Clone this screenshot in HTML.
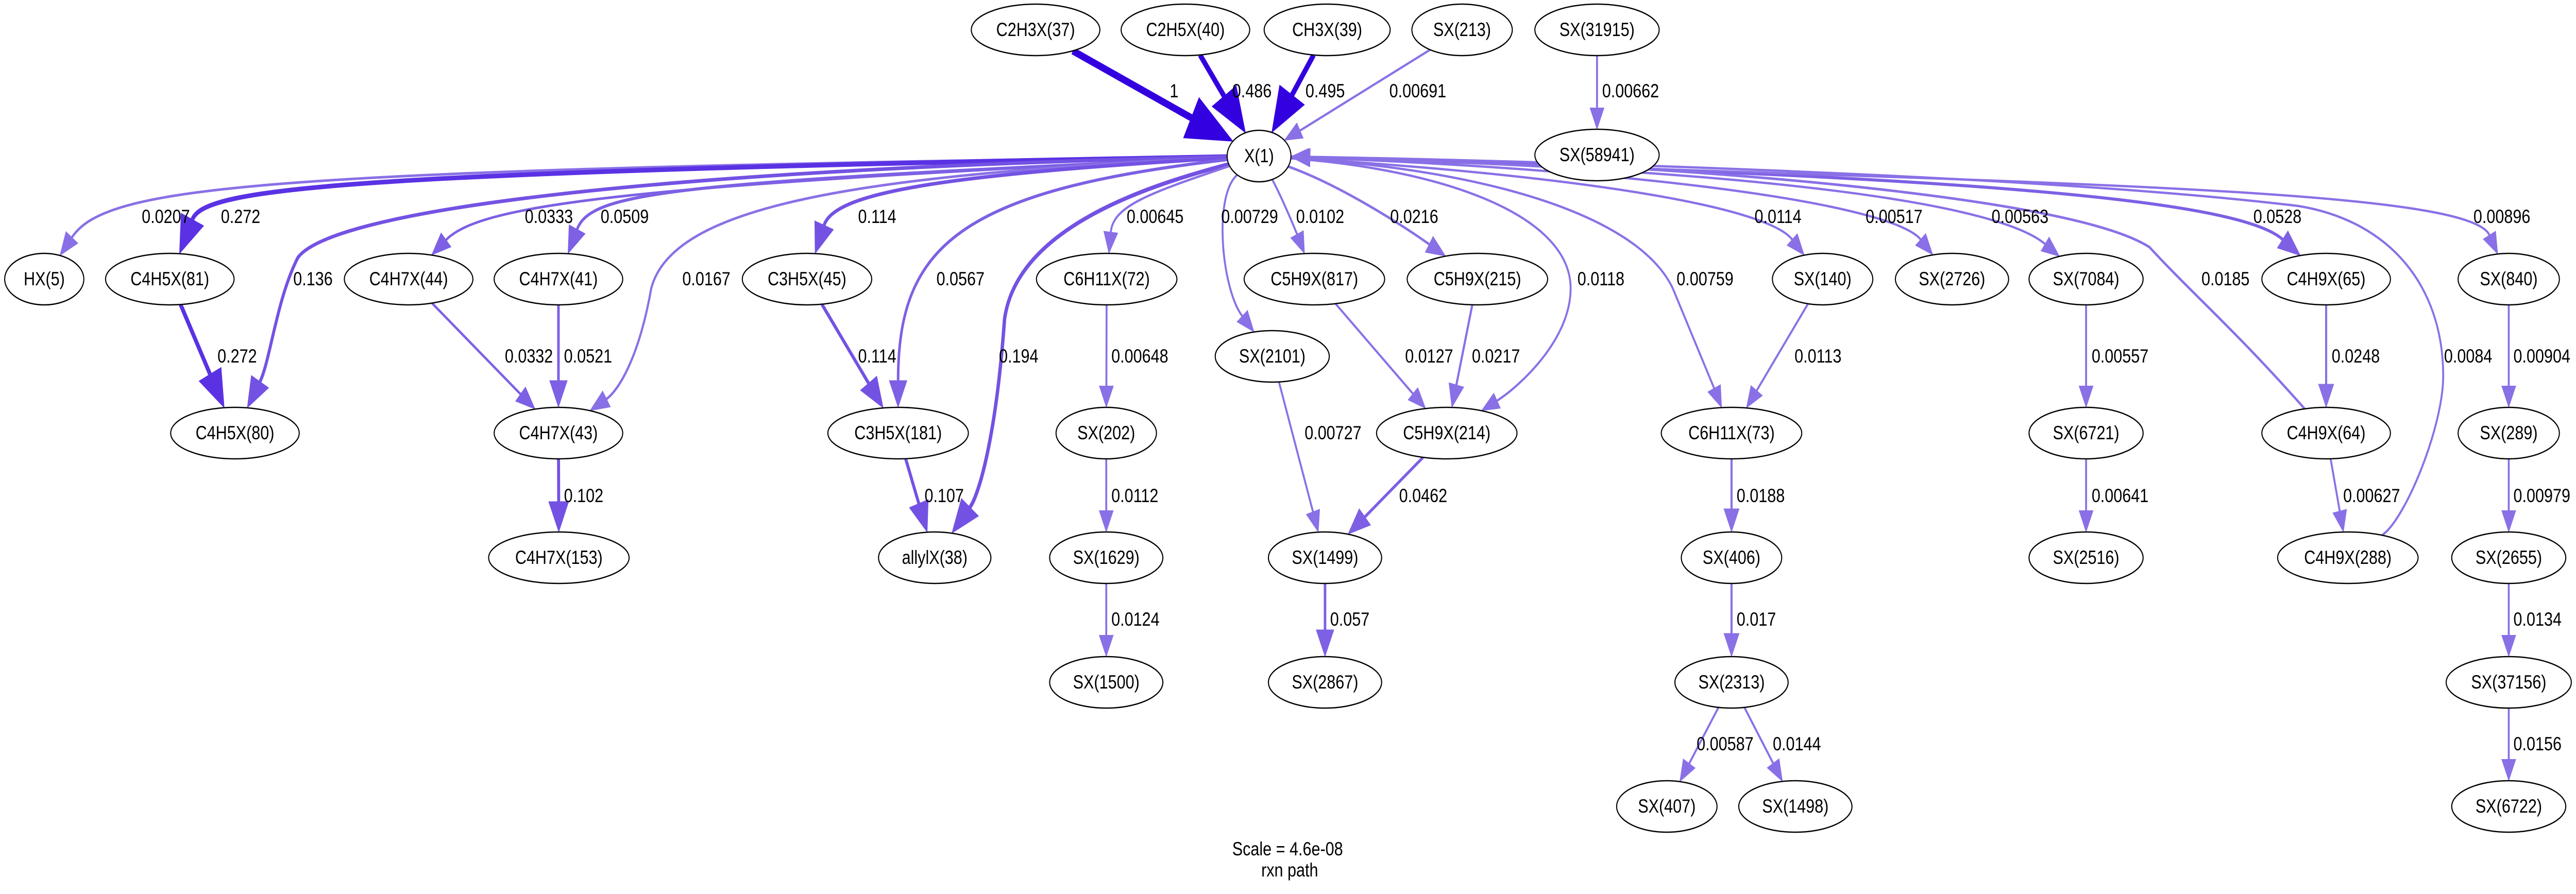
<!DOCTYPE html>
<html><head><meta charset="utf-8"><style>
html,body{margin:0;padding:0;background:#fff;width:100%;height:100%;overflow:hidden;}
svg{display:block;width:100vw;height:100vh;}
text{font-family:"Liberation Sans",sans-serif;font-size:37px;fill:#000;}
</style></head><body>
<svg id="g" xmlns="http://www.w3.org/2000/svg" viewBox="0 0 6052 1736" preserveAspectRatio="none">
<rect width="6052" height="1736" fill="#fff"/>
<g id="edges"></g><g id="nodes"></g><g id="labels"></g>
<text x="3025" y="1649" text-anchor="middle" dominant-baseline="central">Scale = 4.6e-08</text>
<text x="3030" y="1690" text-anchor="middle" dominant-baseline="central">rxn path</text>
</svg>
<script>
var N={
'C2H3X(37)':[2433,58,151],'C2H5X(40)':[2785,58,151],'CH3X(39)':[3118,58,148],'SX(213)':[3435,58,118],'SX(31915)':[3752,58,146],
'X(1)':[2958,303,75],'SX(58941)':[3752,301,146],
'HX(5)':[104,542,93],'C4H5X(81)':[399,542,151],'C4H7X(44)':[960,542,151],'C4H7X(41)':[1312,542,151],'C3H5X(45)':[1896,542,152],
'C6H11X(72)':[2600,542,165],'C5H9X(817)':[3088,542,165],'C5H9X(215)':[3471,542,165],'SX(140)':[4282,542,118],'SX(2726)':[4586,542,133],
'SX(7084)':[4901,542,134],'C4H9X(65)':[5465,542,151],'SX(840)':[5894,542,119],
'SX(2101)':[2989,692,134],
'C4H5X(80)':[552,841,151],'C4H7X(43)':[1312,841,151],'C3H5X(181)':[2110,841,165],'SX(202)':[2599,841,118],'C5H9X(214)':[3399,841,165],
'C6H11X(73)':[4068,841,165],'SX(6721)':[4901,841,134],'C4H9X(64)':[5465,841,151],'SX(289)':[5894,841,119],
'C4H7X(153)':[1313,1083,165],'allylX(38)':[2196,1083,132],'SX(1629)':[2599,1083,133],'SX(1499)':[3113,1083,133],'SX(406)':[4068,1083,118],
'SX(2516)':[4901,1083,134],'C4H9X(288)':[5516,1083,165],'SX(2655)':[5894,1083,134],
'SX(1500)':[2599,1325,133],'SX(2867)':[3113,1325,133],'SX(2313)':[4068,1325,133],'SX(37156)':[5894,1325,147],
'SX(407)':[3916,1566,118],'SX(1498)':[4218,1566,133],'SX(6722)':[5894,1566,134]
};
var RY=50;
var E=[
['C2H3X(37)','X(1)',1,'1',2748,177],
['C2H5X(40)','X(1)',0.486,'0.486',2895,177],
['CH3X(39)','X(1)',0.495,'0.495',3067,177],
['SX(213)','X(1)',0.00691,'0.00691',3264,177],
['SX(31915)','SX(58941)',0.00662,'0.00662',3764,177],
['X(1)','HX(5)',0.0207,'0.0207',333,421,[[600,330],[250,360]]],
['X(1)','C4H5X(81)',0.272,'0.272',519,421,[[800,335],[480,365]]],
['X(1)','C4H5X(80)',0.136,'0.136',689,542,[[1500,330],[780,410],[700,500],[650,580],[635,700]]],
['X(1)','C4H7X(44)',0.0333,'0.0333',1233,421,[[1500,360],[1130,395]]],
['X(1)','C4H7X(41)',0.0509,'0.0509',1411,421,[[1600,355],[1390,370]]],
['X(1)','C4H7X(43)',0.0167,'0.0167',1603,542,[[2000,340],[1580,400],[1530,560],[1500,700],[1450,760]]],
['X(1)','C3H5X(45)',0.114,'0.114',2016,421,[[2200,340],[1960,375]]],
['X(1)','C3H5X(181)',0.0567,'0.0567',2200,542,[[2250,370],[2110,480]]],
['X(1)','allylX(38)',0.194,'0.194',2347,692,[[2700,360],[2390,440],[2360,620],[2340,850],[2300,960]]],
['X(1)','C6H11X(72)',0.00645,'0.00645',2647,421,[[2700,375],[2615,400]]],
['X(1)','SX(2101)',0.00729,'0.00729',2869,421,[[2850,380],[2870,560]]],
['X(1)','C5H9X(817)',0.0102,'0.0102',3045,421,[[3010,380],[3045,450]]],
['X(1)','C5H9X(215)',0.0216,'0.0216',3266,421,[[3150,360],[3300,440]]],
['X(1)','C5H9X(214)',0.0118,'0.0118',3706,542,[[3400,330],[3690,420],[3690,560],[3690,660],[3570,750]]],
['X(1)','C6H11X(73)',0.00759,'0.00759',3939,542,[[3500,330],[3850,420],[3930,560],[3990,680],[4030,760]]],
['X(1)','SX(140)',0.0114,'0.0114',4122,421,[[3700,340],[4150,400]]],
['X(1)','SX(2726)',0.00517,'0.00517',4383,421,[[3900,330],[4450,400]]],
['X(1)','SX(7084)',0.00563,'0.00563',4679,421,[[4200,330],[4700,400]]],
['X(1)','C4H9X(65)',0.0528,'0.0528',5294,421,[[4500,340],[5250,380]]],
['X(1)','SX(840)',0.00896,'0.00896',5811,421,[[4800,355],[5800,365]]],
['C4H9X(64)','X(1)',0.0185,'0.0185',5172,542,[[5250,640],[5150,570],[5050,480],[4900,400],[4300,350],[3800,325],[3300,312]]],
['C4H9X(288)','X(1)',0.0084,'0.0084',5742,692,[[5650,1010],[5740,830],[5740,730],[5740,560],[5620,430],[5400,400],[4800,340],[3600,312]]],
['C4H5X(81)','C4H5X(80)',0.272,'0.272',511,692],
['C4H7X(44)','C4H7X(43)',0.0332,'0.0332',1186,692],
['C4H7X(41)','C4H7X(43)',0.0521,'0.0521',1325,692],
['C4H7X(43)','C4H7X(153)',0.102,'0.102',1325,963],
['C3H5X(45)','C3H5X(181)',0.114,'0.114',2016,692],
['C3H5X(181)','allylX(38)',0.107,'0.107',2172,963],
['C6H11X(72)','SX(202)',0.00648,'0.00648',2611,692],
['SX(202)','SX(1629)',0.0112,'0.0112',2611,963],
['SX(1629)','SX(1500)',0.0124,'0.0124',2611,1203],
['SX(2101)','SX(1499)',0.00727,'0.00727',3065,841],
['C5H9X(817)','C5H9X(214)',0.0127,'0.0127',3301,692],
['C5H9X(215)','C5H9X(214)',0.0217,'0.0217',3458,692],
['C5H9X(214)','SX(1499)',0.0462,'0.0462',3287,963],
['SX(1499)','SX(2867)',0.057,'0.057',3125,1203],
['SX(140)','C6H11X(73)',0.0113,'0.0113',4216,692],
['C6H11X(73)','SX(406)',0.0188,'0.0188',4080,963],
['SX(406)','SX(2313)',0.017,'0.017',4080,1203],
['SX(2313)','SX(407)',0.00587,'0.00587',3986,1445],
['SX(2313)','SX(1498)',0.0144,'0.0144',4165,1445],
['SX(7084)','SX(6721)',0.00557,'0.00557',4914,692],
['SX(6721)','SX(2516)',0.00641,'0.00641',4914,963],
['C4H9X(65)','C4H9X(64)',0.0248,'0.0248',5478,692],
['C4H9X(64)','C4H9X(288)',0.00627,'0.00627',5505,963],
['SX(840)','SX(289)',0.00904,'0.00904',5905,692],
['SX(289)','SX(2655)',0.00979,'0.00979',5905,963],
['SX(2655)','SX(37156)',0.0134,'0.0134',5905,1203],
['SX(37156)','SX(6722)',0.0156,'0.0156',5905,1445]
];
function bnd(n,p){var c=N[n],dx=p[0]-c[0],dy=p[1]-c[1];var t=1/Math.sqrt((dx/c[2])*(dx/c[2])+(dy/RY)*(dy/RY));return [c[0]+t*dx,c[1]+t*dy];}
function col(v){return v>0.4?'#3300e0':v>0.2?'#5a32e4':v>0.09?'#7352e3':v>0.03?'#7d60e4':'#8a70e6';}
function wid(v){return v>0.9?14:v>0.4?11:v>0.2?9:v>0.15?8:v>0.09?7:v>0.04?6:v>0.016?5:4.5;}
var NS='http://www.w3.org/2000/svg',eg=document.getElementById('edges'),ng=document.getElementById('nodes'),lg=document.getElementById('labels');
function mk(t,a,p){var e=document.createElementNS(NS,t);for(var k in a)e.setAttribute(k,a[k]);p.appendChild(e);return e;}
E.forEach(function(e){
 var s=e[0],t=e[1],v=e[2],c=e[6]||[];
 var sc=N[s],tc=N[t];
 var S=bnd(s,c.length?c[0]:[tc[0],tc[1]]);
 var last=c.length?c[c.length-1]:S;
 var T=bnd(t,c.length?c[c.length-1]:[sc[0],sc[1]]);
 var dx=T[0]-last[0],dy=T[1]-last[1],l=Math.sqrt(dx*dx+dy*dy);dx/=l;dy/=l;
 var w=wid(v),L=10+7*w,W=L*0.8;
 var B=[T[0]-L*dx,T[1]-L*dy];
 var d='M'+S[0]+','+S[1];
 if(c.length==0)d+=' L'+B[0]+','+B[1];
 else{
  var pts=c.concat([B]);
  for(var i=0;i+2<pts.length;i+=3){d+=' C'+pts[i]+' '+pts[i+1]+' '+pts[i+2];}
 }
 var cl=col(v);
 mk('path',{d:d,fill:'none',stroke:cl,'stroke-width':w},eg);
 var px=-dy,py=dx;
 var ap=[T,[B[0]+px*W/2,B[1]+py*W/2],[B[0]-px*W/2,B[1]-py*W/2]];
 mk('polygon',{points:ap.map(function(p){return p[0]+','+p[1]}).join(' '),fill:cl,stroke:cl,'stroke-width':1},eg);
 var tx=mk('text',{x:e[4],y:e[5],'dominant-baseline':'central'},lg);tx.textContent=e[3];
});
for(var n in N){var c=N[n];
 mk('ellipse',{cx:c[0],cy:c[1],rx:c[2],ry:RY,fill:'#fff',stroke:'#000','stroke-width':2.5},ng);
 var tx=mk('text',{x:c[0],y:c[1],'text-anchor':'middle','dominant-baseline':'central'},ng);tx.textContent=n;}
</script>
</body></html>
